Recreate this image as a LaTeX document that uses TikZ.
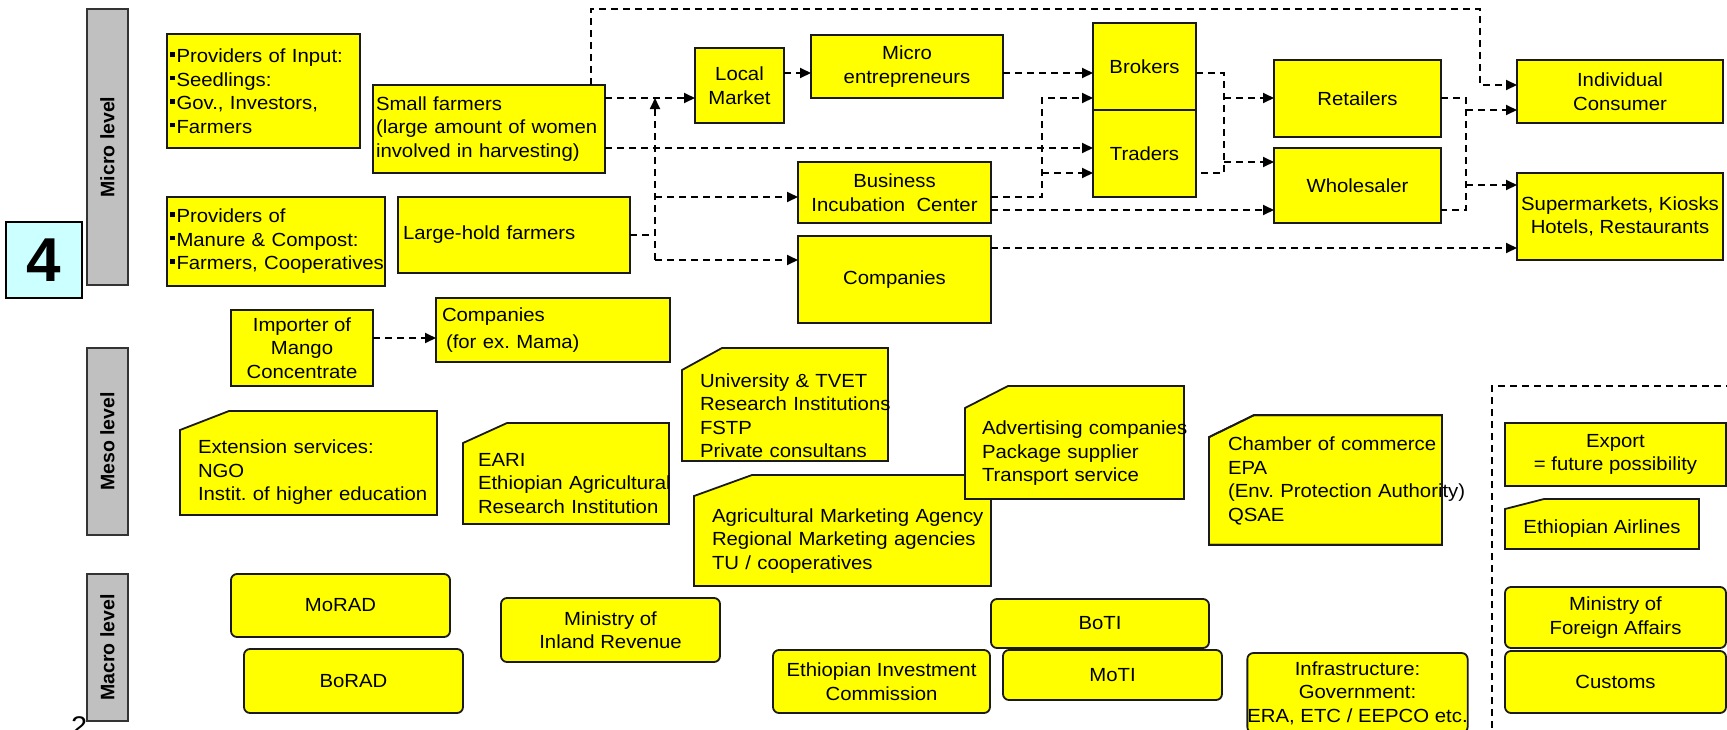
\documentclass[tikz,border=0pt]{standalone}
\usepackage{fontspec}
\setmainfont{Liberation Sans}[FakeStretch=1.07]
\newfontfamily\barfont{Liberation Sans}
\usetikzlibrary{arrows.meta,calc,backgrounds}
\definecolor{yl}{HTML}{FFFF00}
\definecolor{edge}{HTML}{1A1A1A}
\definecolor{barfill}{HTML}{C0C0C0}
\definecolor{bardraw}{HTML}{333333}
\definecolor{tagfill}{HTML}{CCFFFF}
% lines inside the boxes are never hyphenated
\hyphenpenalty=10000
\exhyphenpenalty=10000
% small square bullet used in the provider lists (no break after it)
\newcommand\bul{\rule[6pt]{4.5pt}{4.5pt}\kern2pt\relax}
% outline of a box with its upper left corner cut off
\newcommand\snipoutline[4]{\path[#1] (#2.south west) -- (#2.north west) -- ($(#2.north west)+(#3,-#4)$) -- ($(#2.north east)+(0,-#4)$) -- (#2.south east) -- cycle;}
\tikzset{
  txt/.style={font=\fontsize{19}{23.5}\selectfont},
  box/.style={draw=edge, fill=yl, line width=1.8pt, inner sep=0pt, outer sep=0pt, txt},
  rbox/.style={box, rounded corners=6pt},
  snip/.style={inner sep=0pt, outer sep=0pt, txt},
  snipfill/.style={draw=edge, fill=yl, line width=1.8pt, line join=miter},
  snipedge/.style={draw=edge, line width=1.8pt, line join=miter},
  bar/.style={draw=bardraw, fill=barfill, line width=2pt, inner sep=0pt, outer sep=0pt,
    font=\barfont\bfseries\fontsize{19.5}{20}\selectfont},
  dline/.style={draw=black, line width=1.8pt, dash pattern=on 7pt off 5pt},
  flow/.style={dline, -{Triangle[length=11pt,width=10pt]}},
  every node/.append style={execute at begin node={\hyphenpenalty=10000\exhyphenpenalty=10000}},
}
\begin{document}
\begin{tikzpicture}[x=1pt,y=-1pt]
\useasboundingbox (0,0) rectangle (1727,729);
\clip (0,0) rectangle (1727,729);

% level bars and section tag
\node[draw=black, fill=tagfill, line width=2.5pt, minimum width=76pt, minimum height=76pt, inner sep=0pt,
  font=\barfont\bfseries\fontsize{62}{62}\selectfont] (tag) at (44,260) {4};
\node[bar, minimum width=41pt, minimum height=276pt] (mibar) at (107.5,147) {\rotatebox{90}{Micro level}};
\node[bar, minimum width=41pt, minimum height=187pt] (mebar) at (107.5,441.5) {\rotatebox{90}{Meso level}};
\node[bar, minimum width=41pt, minimum height=147pt] (mabar) at (107.5,647.5) {\rotatebox{90}{Macro level}};
\node[anchor=base west, inner sep=0pt, font=\fontsize{27}{27}\selectfont] (pg) at (71,735) {2};

% micro level: value chain
\node[box, minimum width=193pt, minimum height=114pt, inner xsep=3pt, text width=187pt, align=left] (pin) at (263.5,91)
  {\bul Providers~of~Input:\\\bul Seedlings:\\\bul Gov.,~Investors,\\\bul Farmers};
\node[box, minimum width=232pt, minimum height=88pt, inner xsep=3pt, text width=226pt, align=left] (sf) at (489,129)
  {Small~farmers\\(large~amount~of~women\\involved~in~harvesting)};
\node[box, minimum width=218pt, minimum height=89pt, inner xsep=3pt, text width=212pt, align=left] (pma) at (276,241.5)
  {\bul Providers~of\\\bul Manure~\&~Compost:\\\bul Farmers,~Cooperatives};
\node[box, minimum width=232pt, minimum height=76pt, inner xsep=5pt, text width=222pt, align=left] (lh) at (514,235)
  {Large-hold~farmers};
\node[box, minimum width=89pt, minimum height=75pt, align=center] (lm) at (739.5,85.5) {Local\\Market};
\node[box, minimum width=192pt, minimum height=63pt, align=center] (me) at (907,66.5) {Micro\\entrepreneurs};
\node[box, minimum width=103pt, minimum height=87pt] (br) at (1144.5,66.5) {Brokers};
\node[box, minimum width=103pt, minimum height=87pt] (tr) at (1144.5,153.5) {Traders};
\node[box, minimum width=167pt, minimum height=77pt] (re) at (1357.5,98.5) {Retailers};
\node[box, minimum width=167pt, minimum height=75pt] (wh) at (1357.5,185.5) {Wholesaler};
\node[box, minimum width=206pt, minimum height=63pt, align=center] (ic) at (1620,91.5) {Individual\\Consumer};
\node[box, minimum width=206pt, minimum height=87pt, align=center] (sm) at (1620,216.5) {Supermarkets, Kiosks\\Hotels, Restaurants};
\node[box, minimum width=193pt, minimum height=61pt, align=center] (bic) at (894.5,192.5) {Business\\Incubation\ \ Center};
\node[box, minimum width=193pt, minimum height=87pt] (co) at (894.5,279.5) {Companies};
\node[box, minimum width=142pt, minimum height=76pt, align=center] (imp) at (302,348) {Importer of\\Mango\\Concentrate};
\node[box, minimum width=234pt, minimum height=64pt, inner xsep=6pt, text width=222pt, align=left] (mama) at (553,330)
  {Companies\\[3pt]\hspace*{4pt}(for~ex.~Mama)};

% meso level: support institutions
\node[snip, minimum width=257pt, minimum height=85pt, inner xsep=18pt, text width=221pt, align=left] (ext) at (308.5,472.5)
  {Extension~services:\\NGO\\Instit.~of~higher~education};
\node[snip, minimum width=206pt, minimum height=81pt, inner xsep=15pt, text width=176pt, align=left] (eari) at (566,483.5)
  {EARI\\Ethiopian~Agricultural\\Research~Institution};
\node[snip, minimum width=206pt, minimum height=91pt, inner xsep=18pt, text width=170pt, align=left] (uni) at (785,415.5)
  {University~\&~TVET\\Research~Institutions\\FSTP\\Private~consultans};
\node[snip, minimum width=297pt, minimum height=90pt, inner xsep=18pt, text width=261pt, align=left] (ama) at (842.5,541)
  {Agricultural~Marketing~Agency\\Regional~Marketing~agencies\\TU~/~cooperatives};
\node[snip, minimum width=219pt, minimum height=91pt, inner xsep=17pt, text width=185pt, align=left] (adv) at (1074.5,453.5)
  {Advertising~companies\\Package~supplier\\Transport~service};
\node[snip, minimum width=233pt, minimum height=92pt, inner xsep=19pt, text width=195pt, align=left] (cham) at (1325.5,491)
  {Chamber~of~commerce\\EPA\\(Env.~Protection~Authority)\\QSAE\\\mbox{}};
\node[box, minimum width=221pt, minimum height=63pt, align=center] (exp) at (1615.5,454.5) {Export\\= future possibility};
\node[snip, minimum width=194pt, minimum height=40pt] (eta) at (1602,529) {Ethiopian Airlines};

\begin{scope}[on background layer]
  \snipoutline{snipfill}{ext}{49}{19}
  \snipoutline{snipfill}{eari}{44}{20}
  \snipoutline{snipfill}{uni}{40}{22}
  \snipoutline{snipfill}{ama}{58}{21}
  \snipoutline{snipfill}{adv}{43}{22}
  \snipoutline{snipfill}{cham}{45}{22}
  \snipoutline{snipfill}{eta}{39}{10}
\end{scope}
\snipoutline{snipedge}{cham}{45}{22}

% macro level: government bodies
\node[rbox, minimum width=219pt, minimum height=63pt] (morad) at (340.5,605.5) {MoRAD};
\node[rbox, minimum width=219pt, minimum height=64pt] (borad) at (353.5,681) {BoRAD};
\node[rbox, minimum width=219pt, minimum height=64pt, align=center] (mir) at (610.5,630) {Ministry of\\Inland Revenue};
\node[rbox, minimum width=217pt, minimum height=63pt, align=center] (eic) at (881.5,681.5) {Ethiopian Investment\\Commission};
\node[rbox, minimum width=218pt, minimum height=49pt] (boti) at (1100,623.5) {BoTI};
\node[rbox, minimum width=219pt, minimum height=50pt] (moti) at (1112.5,675) {MoTI};
\node[rbox, minimum width=217pt, minimum height=80pt, align=center] (infra) at (1357.5,693)
  {Infrastructure:\\Government:\\ERA, ETC / EEPCO etc.};
\node[rbox, minimum width=221pt, minimum height=61pt, align=center] (mofa) at (1615.5,617.5) {Ministry of\\Foreign Affairs};
\node[rbox, minimum width=221pt, minimum height=62pt] (cus) at (1615.5,682) {Customs};

% export frame
\coordinate (fr1) at (1492,740);
\coordinate (fr2) at (1492,386);
\coordinate (fr3) at (1740,386);
\draw[dline] (fr1) -- (fr2) -- (fr3);

% flows
\coordinate (tl) at (591,9);
\coordinate (topR) at (1480,9);
\coordinate (topRd) at (1480,85);
\draw[flow] (tl |- sf.north) -- (tl) -- (topR) -- (topRd) -- (ic.west |- topRd);

\coordinate (jA) at (655,98);
\coordinate (jC) at (655,197);
\coordinate (jB) at (655,235);
\coordinate (jD) at (655,260);
\draw[flow] (sf.east |- jA) -- (lm.west |- jA);
\draw[dline] (lh.east |- jB) -- (jB);
\draw[flow] (jD) -- (jA);
\draw[flow] (jC) -- (bic.west |- jC);
\draw[flow] (jD) -- (co.west |- jD);

\coordinate (yA) at (0,73);
\coordinate (yB) at (0,148);
\coordinate (yC) at (0,210);
\coordinate (yD) at (0,248);
\coordinate (yG) at (0,338);
\draw[flow] (lm.east |- yA) -- (me.west |- yA);
\draw[flow] (me.east |- yA) -- (br.west |- yA);
\draw[flow] (sf.east |- yB) -- (tr.west |- yB);
\draw[flow] (bic.east |- yC) -- (wh.west |- yC);
\draw[flow] (co.east |- yD) -- (sm.west |- yD);
\draw[flow] (imp.east |- yG) -- (mama.west |- yG);

\coordinate (kT) at (1042,98);
\coordinate (kM) at (1042,173);
\coordinate (kB) at (1042,197);
\draw[flow] (bic.east |- kB) -- (kB) -- (kT) -- (br.west |- kT);
\draw[flow] (kM) -- (tr.west |- kM);

\coordinate (mT) at (1224,73);
\coordinate (mR) at (1224,98);
\coordinate (mW) at (1224,162);
\coordinate (mB) at (1224,173);
\draw[dline] (br.east |- mT) -- (mT) -- (mB) -- (tr.east |- mB);
\draw[flow] (mR) -- (re.west |- mR);
\draw[flow] (mW) -- (wh.west |- mW);

\coordinate (nT) at (1466,98);
\coordinate (nI) at (1466,110);
\coordinate (nS) at (1466,185);
\coordinate (nB) at (1466,210);
\draw[dline] (re.east |- nT) -- (nT) -- (nB) -- (wh.east |- nB);
\draw[flow] (nI) -- (ic.west |- nI);
\draw[flow] (nS) -- (sm.west |- nS);
\end{tikzpicture}
\end{document}
